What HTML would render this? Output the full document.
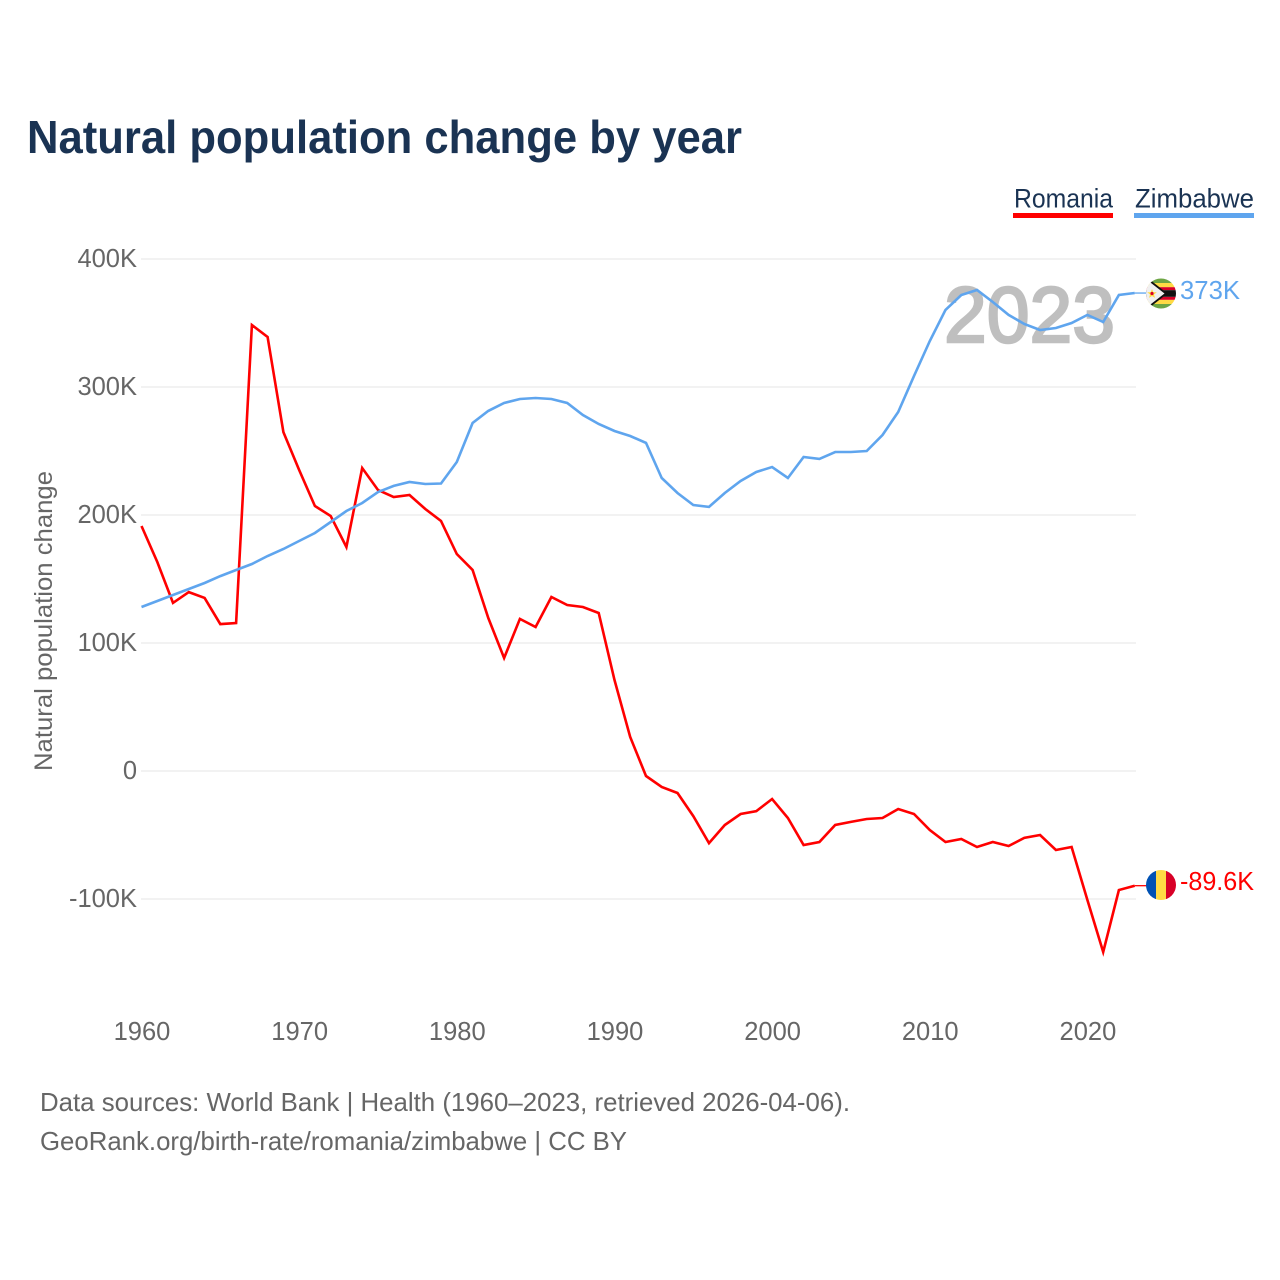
<!DOCTYPE html>
<html lang="en">
<head>
<meta charset="utf-8">
<title>Natural population change by year</title>
<style>
html,body{margin:0;padding:0;background:#fff;width:1280px;height:1280px;overflow:hidden}
svg{display:block}
text{font-family:"Liberation Sans",sans-serif}
</style>
</head>
<body>
<svg id="chart" width="1280" height="1280" viewBox="0 0 1280 1280" xmlns="http://www.w3.org/2000/svg">
  <defs>
    <clipPath id="flag-clip-zw"><circle cx="1161" cy="293.5" r="15"/></clipPath>
    <clipPath id="flag-clip-ro"><circle cx="1161" cy="885" r="15"/></clipPath>
  </defs>
  <text x="27" y="153" font-size="46" font-weight="700" fill="#1a3353" textLength="715" lengthAdjust="spacingAndGlyphs">Natural population change by year</text>

  <g>
    <text x="1014" y="207.5" font-size="27" fill="#1a3353" textLength="99" lengthAdjust="spacingAndGlyphs">Romania</text>
    <rect x="1013" y="213" width="100" height="5" fill="#ff0000"/>
  </g>
  <g>
    <text x="1135" y="207.5" font-size="27" fill="#1a3353" textLength="119" lengthAdjust="spacingAndGlyphs">Zimbabwe</text>
    <rect x="1134" y="213" width="120" height="5" fill="#5fa5ee"/>
  </g>

  <g id="grid"></g>
  <text x="944" y="342" font-size="79" fill="#bfbfbf" stroke="#bfbfbf" stroke-width="2.4" textLength="171" lengthAdjust="spacingAndGlyphs">2023</text>
  <g id="ylabels"></g>
  <g id="xlabels"></g>
  <text transform="translate(52,771) rotate(-90)" x="0" y="0" font-size="25" fill="#666666" textLength="300" lengthAdjust="spacingAndGlyphs">Natural population change</text>
  <g id="lines"></g>

  <g clip-path="url(#flag-clip-zw)">
    <rect x="1146" y="278.5" width="30" height="30" fill="#f0f0f0"/>
    <rect x="1146" y="278.5" width="30" height="4.5" fill="#6da544"/>
    <rect x="1146" y="304" width="30" height="4.5" fill="#6da544"/>
    <rect x="1146" y="283" width="30" height="4.2" fill="#ffda44"/>
    <rect x="1146" y="299.8" width="30" height="4.2" fill="#ffda44"/>
    <rect x="1146" y="287.2" width="30" height="3" fill="#d80027"/>
    <rect x="1146" y="296.8" width="30" height="3" fill="#d80027"/>
    <rect x="1146" y="290.2" width="30" height="6.6" fill="#111111"/>
    <path d="M1146 278.5 L1146 308.5 L1166 293.5 Z" fill="#f0f0f0"/>
    <path d="M1150 281 L1166 293.5 L1150 306" fill="none" stroke="#111111" stroke-width="1.8"/>
    <polygon points="1152,289 1153.3,292.3 1156.8,292.3 1154,294.5 1155,297.9 1152,296 1149,297.9 1150,294.5 1147.2,292.3 1150.7,292.3" fill="#ffda44"/>
    <circle cx="1152" cy="293.5" r="1.6" fill="#d80027"/>
  </g>
  <g clip-path="url(#flag-clip-ro)">
    <rect x="1146" y="870" width="10" height="30" fill="#0052b4"/>
    <rect x="1156" y="870" width="10" height="30" fill="#ffda44"/>
    <rect x="1166" y="870" width="10" height="30" fill="#d80027"/>
  </g>
  <text x="1180" y="299" font-size="25.5" fill="#5fa5ee" textLength="60" lengthAdjust="spacingAndGlyphs">373K</text>
  <text x="1180" y="890" font-size="25.5" fill="#ff0000" textLength="74" lengthAdjust="spacingAndGlyphs">-89.6K</text>

  <text x="40" y="1111" font-size="26" fill="#666666" textLength="810" lengthAdjust="spacingAndGlyphs">Data sources: World Bank | Health (1960–2023, retrieved 2026-04-06).</text>
  <text x="40" y="1150" font-size="26" fill="#666666" textLength="587" lengthAdjust="spacingAndGlyphs">GeoRank.org/birth-rate/romania/zimbabwe | CC BY</text>
</svg>
<script>
const firstYear = 1960;
const yTicks = [400, 300, 200, 100, 0, -100];
const yTickLabels = ['400K', '300K', '200K', '100K', '0', '-100K'];
const xTicks = [1960, 1970, 1980, 1990, 2000, 2010, 2020];
const romania = [191.4,163.3,131.3,139.8,135.2,114.8,115.6,348.4,339.1,264.8,
  235.2,207.0,199.2,175.0,236.7,219.5,214.1,215.6,204.7,195.3,
  169.5,157.0,119.5,88.3,118.8,112.5,135.9,129.7,128.1,123.4,
  71.1,26.6,-3.9,-12.5,-17.2,-35.2,-56.3,-42.2,-33.6,-31.3,
  -21.9,-36.7,-57.8,-55.5,-42.2,-39.8,-37.5,-36.7,-29.7,-33.6,
  -46.1,-55.5,-53.1,-59.4,-55.5,-58.6,-52.3,-50.0,-61.7,-59.4,
  -100.8,-141.4,-93.0,-89.6];
const zimbabwe = [128.1,132.8,137.5,142.2,146.9,152.3,157.0,161.7,168.0,173.4,
  179.7,185.9,194.5,203.1,209.4,218.0,222.7,225.8,224.2,224.6,
  241.4,271.9,281.3,287.5,290.6,291.4,290.6,287.5,278.1,271.1,
  265.6,261.7,256.3,228.9,217.2,207.8,206.3,217.2,226.6,233.6,
  237.5,228.9,245.3,243.8,249.2,249.2,250.0,262.5,280.5,308.6,
  335.9,360.2,371.9,375.8,366.4,356.3,349.2,344.5,346.1,350.0,
  356.3,350.8,371.9,373.4];

const NS = 'http://www.w3.org/2000/svg';
function xScale(year) { return 141.5 + (year - 1960) * 15.765; }
function yScale(k) { return 771 - k * 1.28; }
function make(tag, attrs, parent) {
  const el = document.createElementNS(NS, tag);
  for (const k in attrs) el.setAttribute(k, attrs[k]);
  parent.appendChild(el);
  return el;
}

const grid = document.getElementById('grid');
const ylabels = document.getElementById('ylabels');
yTicks.forEach(function (t, i) {
  const line = make('line', {x1: 141, x2: 1136, y1: yScale(t), y2: yScale(t), stroke: '#eeeeee', 'stroke-width': 1.5}, grid);
  
  
  const label = make('text', {x: 137, y: yScale(t) + 8, 'text-anchor': 'end', 'font-size': 25.5, fill: '#666666'}, ylabels);
  label.textContent = yTickLabels[i];
  
  
});

const xlabels = document.getElementById('xlabels');
xTicks.forEach(function (t) {
  const label = make('text', {x: xScale(t) + 0.5, y: 1040, 'text-anchor': 'middle', 'font-size': 25.5, fill: '#666666'}, xlabels);
  label.textContent = String(t);
  
  
});

function drawSeries(values, color, name) {
  const lines = document.getElementById('lines');
  const pts = values.map(function (v, i) { return xScale(firstYear + i).toFixed(1) + ',' + yScale(v).toFixed(1); });
  const path = make('polyline', {points: pts.join(' '), fill: 'none', stroke: color, 'stroke-width': 2.6, 'stroke-linejoin': 'miter'}, lines);
  
  
  const lastY = yScale(values[values.length - 1]);
  const leader = make('line', {x1: xScale(firstYear + values.length - 1), x2: 1147, y1: lastY, y2: lastY, stroke: color, 'stroke-width': 1.3}, lines);
  
  
}
drawSeries(romania, '#ff0000', 'series-romania');
drawSeries(zimbabwe, '#5fa5ee', 'series-zimbabwe');
</script>
</body>
</html>
